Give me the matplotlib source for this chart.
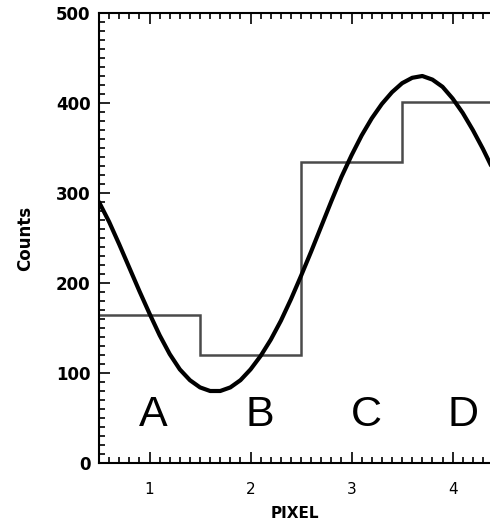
import matplotlib
matplotlib.use("Agg")
import matplotlib.pyplot as plt
from matplotlib.ticker import MultipleLocator

# Continuous intensity profile across the detector
pos = [0.5, 0.6, 0.7, 0.8, 0.9, 1.0, 1.1, 1.2, 1.3, 1.4,
       1.5, 1.6, 1.7, 1.8, 1.9, 2.0, 2.1, 2.2, 2.3, 2.4,
       2.5, 2.6, 2.7, 2.8, 2.9, 3.0, 3.1, 3.2, 3.3, 3.4,
       3.5, 3.6, 3.7, 3.8, 3.9, 4.0, 4.1, 4.2, 4.3, 4.4]
signal = [290, 268, 243, 217, 191, 166, 142, 121, 104, 92,
          84, 80, 80, 84, 92, 104, 119, 137, 158, 182,
          208, 235, 263, 291, 318, 342, 364, 383, 399, 412,
          422, 428, 430, 426, 418, 405, 389, 370, 349, 326]

# Counts integrated in each pixel
pixel_edges = [0.5, 1.5, 2.5, 3.5, 4.5]
pixel_counts = [165, 120, 334, 401]
pixel_names = ["A", "B", "C", "D"]
name_x = [1.04, 2.09, 3.15, 4.1]

fig = plt.figure(figsize=(4.9, 5.23), dpi=100)
ax = fig.add_axes([99 / 490, 60 / 523, 391 / 490, 450 / 523])

ax.stairs(pixel_counts, pixel_edges, baseline=None, color="#4a4a4a", linewidth=1.8, zorder=2)
ax.plot(pos, signal, color="black", linewidth=3.0, solid_capstyle="round",
        solid_joinstyle="round", zorder=3)

for name, x in zip(pixel_names, name_x):
    ax.text(x, 53, name, ha="center", va="center", fontsize=31,
            family="Liberation Sans", color="black")

ax.set_xlim(0.5, 4.37)
ax.set_ylim(0, 500)
ax.spines["right"].set_visible(False)
for s in ("left", "bottom", "top"):
    ax.spines[s].set_linewidth(1.5)

ax.xaxis.set_major_locator(MultipleLocator(1))
ax.xaxis.set_minor_locator(MultipleLocator(0.1))
ax.yaxis.set_major_locator(MultipleLocator(100))
ax.yaxis.set_minor_locator(MultipleLocator(10))
ax.tick_params(which="both", direction="in", top=True, right=False, width=1.2)
ax.tick_params(which="major", length=8)
ax.tick_params(which="minor", length=4)
ax.tick_params(axis="y", labelsize=12, pad=6)
ax.tick_params(axis="x", labelsize=11, pad=14)
for lab in ax.get_yticklabels():
    lab.set_fontweight("bold")

ax.set_xlabel("PIXEL", fontsize=11, fontweight="bold", labelpad=6)
ax.set_ylabel("Counts", fontsize=12, fontweight="bold", labelpad=16)

fig.savefig("out.png", dpi=100)
